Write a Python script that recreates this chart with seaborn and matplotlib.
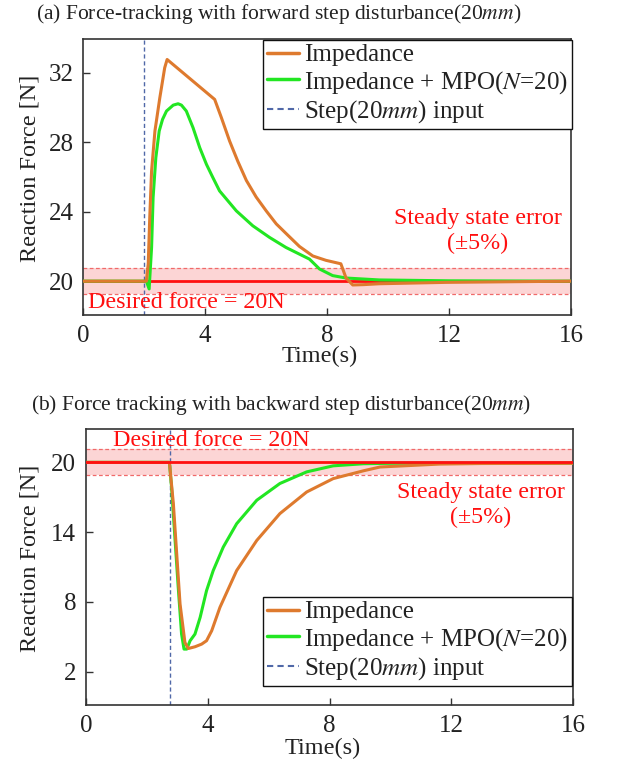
import matplotlib
matplotlib.use("Agg")
import matplotlib.pyplot as plt
import seaborn as sns
import pandas as pd
from matplotlib.lines import Line2D

sns.set_theme(style="white")
plt.rcParams['font.family'] = ['Liberation Serif', 'DejaVu Serif']
plt.rcParams['mathtext.fontset'] = 'stix'

# ---- data: panel (a) forward step ----
t_imp_a = [0, 2.0, 2.07, 2.13, 2.18, 2.24, 2.35, 2.51, 2.67, 2.75, 4.31, 4.53, 4.80, 5.07, 5.35, 5.67,
           6.0, 6.33, 6.65, 7.09, 7.53, 7.96, 8.45, 8.62, 8.84, 9.2, 9.71, 11.9, 16.0]
f_imp_a = [20, 20, 20.0, 20.99, 23.67, 26.35, 28.65, 30.56, 32.29, 32.77, 30.47, 29.42, 28.07, 26.9, 25.8, 24.85,
           24.05, 23.3, 22.75, 22.0, 21.45, 21.2, 21.0, 20.18, 19.78, 19.8, 19.85, 19.93, 20.0]
t_mpo_a = [0, 2.0, 2.07, 2.16, 2.24, 2.29, 2.38, 2.49, 2.60, 2.73, 2.95, 3.11, 3.22, 3.38, 3.60, 3.82,
           4.04, 4.25, 4.47, 5.02, 5.56, 6.11, 6.65, 7.42, 7.53, 7.75, 8.18, 8.62, 9.71, 12.0, 16.0]
f_mpo_a = [20, 20, 20.0, 19.55, 21.94, 24.82, 27.12, 28.65, 29.32, 29.8, 30.14, 30.22, 30.14, 29.8, 28.84, 27.69,
           26.73, 25.97, 25.2, 24.05, 23.19, 22.52, 21.94, 21.27, 21.08, 20.7, 20.32, 20.18, 20.07, 20.02, 20.0]
step_a = 2.0
band_a = (19.27, 20.73)

# ---- data: panel (b) backward step ----
t_imp_b = [0, 2.74, 2.87, 2.98, 3.09, 3.25, 3.36, 3.58, 3.80, 3.96, 4.13, 4.40, 4.95, 5.61, 6.37, 7.25,
           8.12, 9.11, 9.66, 11.6, 13.0, 16.0]
f_imp_b = [20, 20, 16.45, 12.13, 7.81, 4.5, 3.98, 4.13, 4.36, 4.65, 5.51, 7.52, 10.69, 13.28, 15.59, 17.45,
           18.6, 19.27, 19.6, 19.85, 19.9, 19.92]
t_mpo_b = [0, 2.74, 2.81, 2.92, 3.03, 3.14, 3.22, 3.31, 3.42, 3.58, 3.75, 3.96, 4.18, 4.51, 4.95, 5.61,
           6.37, 7.25, 8.12, 9.11, 10.0, 16.0]
f_mpo_b = [20, 20, 17.89, 13.57, 9.25, 5.22, 3.93, 3.93, 4.65, 5.22, 6.66, 8.96, 10.69, 12.71, 14.72, 16.74,
           18.18, 19.18, 19.7, 19.88, 19.92, 19.93]
step_b = 2.75
band_b = (18.89, 21.11)

titles = ["(a) Force-tracking with forward step disturbance(20$mm$)",
          "(b) Force tracking with backward step disturbance(20$mm$)"]
yticks_a = [20, 24, 28, 32]
yticks_b = [2, 8, 14, 20]
xticks = [0, 4, 8, 12, 16]
labels = ["Impedance", "Impedance + MPO($N$=20)", "Step(20$mm$) input"]

C_IMP = "#DE7A2E"
C_MPO = "#22E622"
C_STEP = "#5068A8"
C_RED = "#FF1010"
C_TXT = "#222222"

W, H = 623, 766
fig = plt.figure(figsize=(W / 100, H / 100), dpi=100)

def px_axes(l, t, r, b):
    return fig.add_axes([l / W, 1 - b / H, (r - l) / W, (b - t) / H])

ax1 = px_axes(83.3, 39, 571, 315)
ax2 = px_axes(86, 429, 573, 705)

def draw(ax, ti, fi, tm, fm, step, band, ylim, yticks, title, title_xy, leg_box,
         desired_xy, sse_xy, ylab_xy, xlab_xy, red_z):
    ax.axhspan(band[0], band[1], color="#FCD5D5", lw=0, zorder=0)
    ax.axhline(band[0], color="#F06A6A", ls=(0, (3, 2)), lw=0.9, zorder=1)
    ax.axhline(band[1], color="#F06A6A", ls=(0, (3, 2)), lw=0.9, zorder=1)
    ax.axhline(20, color=C_RED, lw=2.0, zorder=red_z)
    ax.axvline(step, color=C_STEP, ls=(0, (3, 2)), lw=1.0, zorder=2)
    di = pd.DataFrame({"t": ti, "f": fi})
    dm = pd.DataFrame({"t": tm, "f": fm})
    sns.lineplot(data=dm, x="t", y="f", ax=ax, color=C_MPO, lw=2.2, zorder=3, estimator=None, sort=False)
    sns.lineplot(data=di, x="t", y="f", ax=ax, color=C_IMP, lw=2.2, zorder=4, estimator=None, sort=False)
    ax.set_xlim(0, 16)
    ax.set_ylim(*ylim)
    ax.set_xticks(xticks)
    ax.set_yticks(yticks)
    ax.tick_params(direction="in", length=5, width=1, colors="#333333", labelsize=18,
                   labelcolor=C_TXT, left=True, bottom=True, pad=7)
    for s in ax.spines.values():
        s.set_color("#333333")
        s.set_linewidth(1.2)
    ax.set_xlabel("Time(s)", fontsize=17.5, color=C_TXT)
    ax.set_ylabel("Reaction Force [N]", fontsize=17.5, color=C_TXT)
    ax.xaxis.set_label_coords(*xlab_xy)
    ax.xaxis.label.set_verticalalignment("center")
    ax.yaxis.set_label_coords(*ylab_xy)
    ax.yaxis.label.set_verticalalignment("center")
    fig.text(title_xy[0], title_xy[1], title, fontsize=15.5, color=C_TXT, ha="center", va="center")
    handles = [Line2D([], [], color=C_IMP, lw=2.5),
               Line2D([], [], color=C_MPO, lw=2.5),
               Line2D([], [], color=C_STEP, lw=1.5, ls=(0, (3, 2)))]
    leg = ax.legend(handles, labels, loc="upper right", bbox_to_anchor=leg_box,
                    bbox_transform=fig.transFigure, fontsize=18, frameon=True,
                    fancybox=False, framealpha=1, edgecolor="#111111",
                    handlelength=1.3, handletextpad=0.2, borderpad=0.15,
                    labelspacing=0.1, borderaxespad=0)
    leg.get_frame().set_linewidth(1.0)
    leg.set_zorder(10)
    for tx in leg.get_texts():
        tx.set_color(C_TXT)
    ax.text(desired_xy[0], desired_xy[1], "Desired force = 20N", color=C_RED, fontsize=17.3,
            va="center", ha="left", transform=fig.transFigure, zorder=6)
    ax.text(sse_xy[0], sse_xy[1], "Steady state error\n(\u00b15%)", color=C_RED,
            fontsize=17.3, ha="center", va="center", linespacing=1.25,
            transform=fig.transFigure, zorder=6)

draw(ax1, t_imp_a, f_imp_a, t_mpo_a, f_mpo_a, step_a, band_a, (18.05, 33.95), yticks_a,
     titles[0], (279 / W, 1 - 14 / H), (572 / W, 1 - 40 / H), (88 / W, 1 - 303 / H),
     (478 / W, 1 - 231 / H), (-0.11, 0.53), (0.485, -0.152), 2)
draw(ax2, t_imp_b, f_imp_b, t_mpo_b, f_mpo_b, step_b, band_b, (-0.88, 22.87), yticks_b,
     titles[1], (281 / W, 1 - 405 / H), (572 / W, 1 - 597 / H), (113 / W, 1 - 440 / H),
     (481 / W, 1 - 505 / H), (-0.116, 0.533), (0.487, -0.159), 5)

fig.savefig("out.png", dpi=100)
